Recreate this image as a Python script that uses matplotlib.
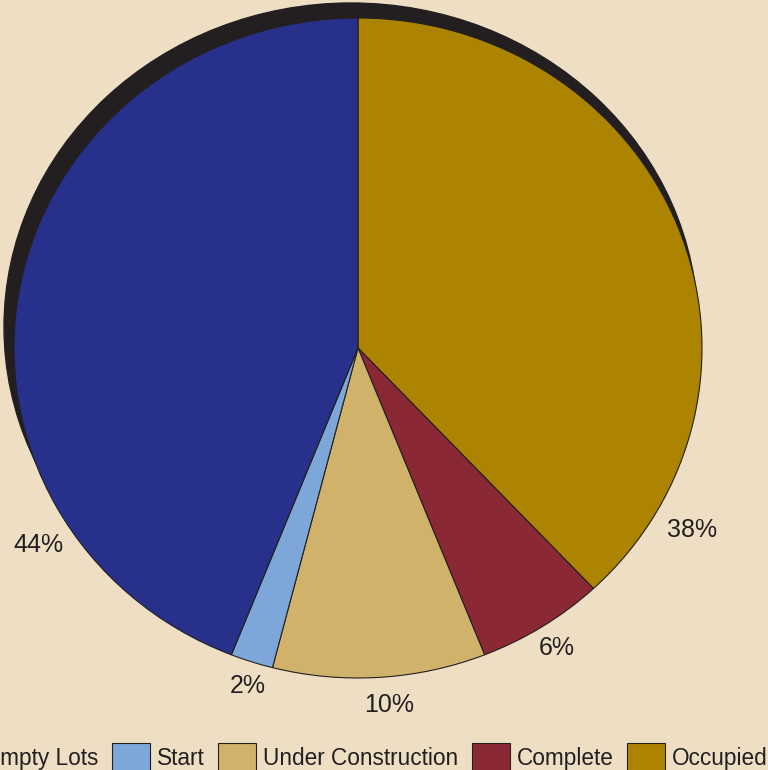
import numpy as np
import matplotlib.pyplot as plt
from matplotlib.patches import Ellipse

plt.rcParams['font.family'] = ['Liberation Sans', 'DejaVu Sans']

# data (clockwise from 12 o'clock)
labels = ["Occupied", "Complete", "Under Construction", "Start", "Empty Lots"]
shares = [38, 6, 10, 2, 44]
colors = ['#AD8402', '#8A2836', '#D1B26A', '#7DA7D9', '#27308A']

bg = '#EEDFC4'
ink = '#231F20'

# where the percentage labels sit (angle in degrees, radius)
label_pos = [(-29.3, 1.114), (-57.3, 1.07), (-85.2, 1.077), (-107.5, 1.067), (-147.6, 1.10)]

fig = plt.figure(figsize=(7.68, 7.70), dpi=100, facecolor=bg)
ax = fig.add_axes([0, 0, 1, 1])
ax.set_facecolor(bg)

# drop shadow behind the pie
ax.add_patch(Ellipse((-0.0203, 0.0636), 2.0174, 1.9636, color=ink, zorder=0))

wedges, texts, autotexts = ax.pie(
    shares, colors=colors, startangle=90, counterclock=False,
    autopct='%d%%',
    wedgeprops=dict(edgecolor=ink, linewidth=0.8),
    textprops=dict(fontsize=18, color=ink))

for t, (a, r) in zip(autotexts, label_pos):
    a = np.radians(a)
    t.set_position((r * np.cos(a), r * np.sin(a)))
    t.set_ha('center')
    t.set_va('center_baseline')

ax.set_aspect('auto')
ax.set_xlim(-1.0407, 1.1919)
ax.set_ylim(-1.2788, 1.0545)
ax.axis('off')

fig.legend(wedges[::-1], labels[::-1], loc='upper left',
           bbox_to_anchor=(-60 / 768, 1 - 742.7 / 770), ncol=5,
           frameon=False, fontsize=16.25, labelcolor=ink,
           handlelength=1.68, handleheight=1.7, handletextpad=0.31,
           columnspacing=0.6, borderpad=0, borderaxespad=0)

fig.savefig('out.png', dpi=100, facecolor=bg)
